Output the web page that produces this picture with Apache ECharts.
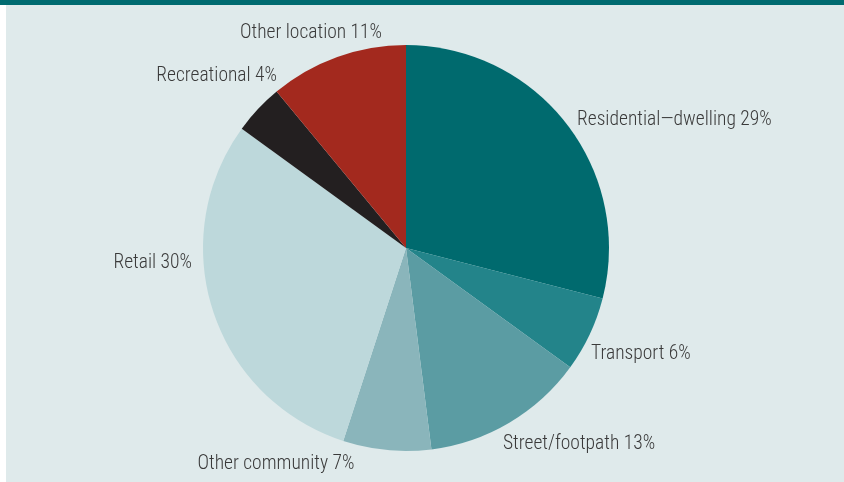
<!DOCTYPE html>
<html><head><meta charset="utf-8">
<script src="https://cdn.jsdelivr.net/npm/echarts@6/dist/echarts.min.js"></script>
<style>html,body{margin:0;padding:0;background:#dfeaeb;}#c{width:844px;height:482px;}</style>
</head><body><div id="c"></div>
<script>
const categories = ['Residential\u2014dwelling','Transport','Street/footpath','Other community','Retail','Recreational','Other location'];
const values = [29, 6, 13, 7, 30, 4, 11];
const colors = ['#006a6e','#23848a','#5b9ca3','#8ab5bb','#bdd8db','#231f20','#a3291e'];
// label anchor layout (x, y, align)
const labelPos = [
  [577, 120.5, 'left'],
  [591, 354, 'left'],
  [503, 444.5, 'left'],
  [276, 464.5, 'center'],
  [192, 263.5, 'right'],
  [277, 76.5, 'right'],
  [311, 33, 'center']
];
const chart = echarts.init(document.getElementById('c'));
chart.setOption({
  backgroundColor: '#dfeaeb',
  animation: false,
  graphic: [
    {type:'rect', shape:{x:0,y:0,width:844,height:5}, style:{fill:'#006b70'}, silent:true},
    {type:'rect', shape:{x:0,y:5,width:6,height:477}, style:{fill:'#ffffff'}, silent:true}
  ],
  series: [{
    type: 'pie',
    center: [406, 248],
    radius: [0, 203],
    startAngle: 90,
    clockwise: true,
    data: categories.map((n,i)=>({name:n, value:values[i], itemStyle:{color:colors[i]}})),
    itemStyle: {borderWidth: 0},
    label: {
      show: true,
      position: 'outside',
      formatter: p => p.name + ' ' + p.value + '%',
      fontFamily: '"Roboto Condensed",sans-serif',
      fontWeight: 300,
      fontSize: 19.5,
      color: '#3a3a3a',
      overflow: 'none'
    },
    labelLine: {show: false},
    labelLayout: function (p) {
      const lp = labelPos[p.dataIndex];
      return {x: lp[0], y: lp[1], align: lp[2], verticalAlign: 'middle', hideOverlap: false};
    }
  }]
});
</script></body></html>
